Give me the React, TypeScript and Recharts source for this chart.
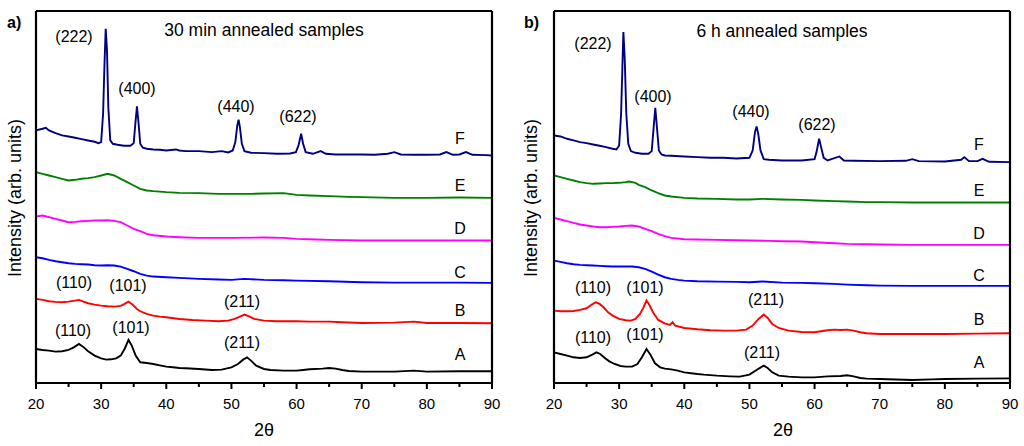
import React from 'react';
import { LineChart, Line, XAxis, YAxis } from 'recharts';

// XRD patterns, 2θ (deg) vs intensity (arb. units, traces already stacked)
// panel a) 30 min annealed samples
const a30F: [number, number][] = [
  [20, 757], [21, 762], [21.5, 765], [22, 757], [23, 749], [24, 742], [25, 739], [26, 735], [27, 731], [28, 727],
  [29, 723], [29.6, 719], [30, 722], [30.3, 807], [30.5, 947], [30.7, 1062], [30.9, 997], [31.1, 827], [31.4, 727],
  [31.8, 717], [32.5, 714], [33.5, 711], [34.5, 711], [35, 719], [35.25, 777], [35.5, 829], [35.75, 777], [36, 717],
  [36.4, 705], [37, 702], [38, 700], [39, 699], [40, 697], [41.5, 700], [42, 697], [43, 695], [45, 695], [47, 692],
  [48.5, 695], [49.5, 691], [50.2, 697], [50.6, 722], [50.9, 772], [51.1, 789], [51.3, 767], [51.6, 717], [52, 695],
  [53, 690], [55, 689], [57, 687], [59, 688], [59.9, 692], [60.3, 712], [60.7, 747], [61, 717], [61.4, 692],
  [62.5, 687], [63.7, 695], [64.5, 687], [66, 685], [68, 685], [70, 685], [72, 684], [74, 687], [75, 692], [76, 685],
  [78, 684], [80, 684], [82, 685], [83, 692], [84, 684], [85, 685], [86, 692], [87, 684], [89, 683], [90, 682],
];
const a30E: [number, number][] = [
  [20, 632], [21, 627], [22, 622], [23, 617], [24, 612], [25, 607], [26, 609], [27, 612], [28, 614], [29, 617],
  [30, 622], [31, 627], [32, 622], [33, 612], [34, 602], [35, 592], [36, 582], [37, 577], [38, 575], [40, 572],
  [42, 570], [45, 569], [48, 567], [50, 567], [53, 567], [55, 568], [58, 569], [60, 564], [62, 562], [65, 560],
  [68, 558], [70, 557], [75, 555], [80, 555], [85, 556], [90, 555],
];
const a30D: [number, number][] = [
  [20, 499], [21, 502], [22, 497], [23, 492], [24, 487], [25, 482], [26, 483], [27, 485], [28, 486], [29, 487],
  [30, 487], [31, 488], [32, 486], [33, 482], [34, 472], [35, 462], [36, 455], [37, 447], [38, 443], [40, 439],
  [42, 437], [45, 435], [50, 435], [55, 436], [58, 435], [60, 432], [63, 430], [65, 429], [70, 427], [75, 427],
  [80, 427], [85, 427], [90, 427],
];
const a30C: [number, number][] = [
  [20, 377], [21, 374], [22, 369], [23, 365], [24, 362], [25, 359], [26, 357], [27, 356], [28, 355], [29, 353],
  [30, 352], [31, 353], [32, 352], [33, 349], [34, 342], [35, 335], [36, 327], [37, 322], [38, 319], [40, 317],
  [42, 315], [45, 312], [48, 310], [50, 309], [52, 312], [55, 309], [58, 308], [60, 307], [65, 305], [70, 302],
  [75, 301], [80, 301], [85, 301], [90, 300],
];
const a30B: [number, number][] = [
  [20, 252], [21, 249], [22, 245], [23, 243], [24, 242], [25, 244], [26, 247], [26.6, 249], [27.3, 244], [28, 239],
  [29, 235], [30, 232], [31, 230], [32, 229], [33, 231], [33.6, 237], [34.2, 244], [34.8, 235], [35.5, 222], [36, 215],
  [37, 207], [38, 202], [39, 199], [40, 197], [42, 192], [44, 189], [46, 187], [48, 185], [49.5, 187], [50.5, 192],
  [51.3, 199], [52, 205], [52.8, 199], [53.5, 192], [55, 187], [57, 185], [60, 185], [62, 184], [65, 184], [67, 182],
  [70, 180], [75, 181], [78, 184], [80, 180], [85, 180], [90, 179],
];
const a30A: [number, number][] = [
  [20, 102], [21, 99], [22, 97], [23, 94], [24, 95], [25, 99], [25.8, 107], [26.6, 117], [27.2, 109], [28, 95],
  [29, 82], [30, 74], [30.8, 70], [31.5, 71], [32.3, 74], [33, 82], [33.6, 102], [34.2, 129], [34.7, 112], [35.3, 82],
  [36, 62], [37, 60], [38, 57], [39, 53], [40, 49], [41, 47], [42, 45], [43, 44], [45, 42], [47, 39], [48.5, 40],
  [50, 47], [51, 57], [51.8, 70], [52.4, 77], [53, 67], [53.8, 52], [55, 42], [56, 39], [58, 37], [60, 37], [61, 39],
  [62, 41], [64, 43], [65, 45], [66, 43], [67, 39], [68, 36], [70, 34], [72, 34], [75, 34], [78, 37], [80, 34],
  [85, 35], [90, 35],
];

// panel b) 6 h annealed samples
const b6F: [number, number][] = [
  [20, 742], [21, 739], [22, 732], [23, 727], [24, 722], [25, 719], [26, 715], [27, 711], [28, 707], [29, 702],
  [29.6, 700], [30, 712], [30.3, 807], [30.5, 947], [30.65, 1052], [30.85, 977], [31.1, 807], [31.4, 717], [31.8, 695],
  [32.5, 690], [33.5, 687], [34.5, 687], [35, 695], [35.3, 767], [35.55, 825], [35.8, 767], [36.1, 697], [36.5, 685],
  [37, 682], [38, 681], [40, 679], [42, 677], [44, 675], [46, 675], [48, 673], [50, 675], [50.5, 697], [50.85, 752],
  [51.1, 769], [51.35, 747], [51.7, 697], [52.2, 671], [53, 669], [55, 667], [58, 667], [60, 671], [60.3, 692],
  [60.7, 732], [61, 707], [61.4, 675], [62, 667], [63.8, 679], [64.5, 667], [66, 666], [70, 665], [74, 666], [75, 671],
  [76, 665], [80, 664], [82.5, 669], [83, 677], [83.7, 665], [85, 665], [85.8, 672], [86.8, 663], [90, 662],
];
const b6E: [number, number][] = [
  [20, 622], [21, 617], [22, 612], [23, 607], [24, 602], [25, 599], [26, 597], [27, 598], [28, 599], [29, 599],
  [30, 600], [31, 602], [31.5, 604], [32.5, 600], [33, 594], [34, 587], [35, 577], [36, 569], [37, 562], [38, 559],
  [40, 555], [42, 553], [45, 552], [48, 550], [50, 550], [52, 552], [55, 550], [58, 549], [60, 547], [63, 545],
  [65, 544], [68, 542], [70, 542], [75, 541], [80, 541], [85, 541], [90, 541],
];
const b6D: [number, number][] = [
  [20, 495], [21, 490], [22, 485], [23, 480], [24, 475], [25, 472], [26, 469], [27, 467], [28, 467], [29, 468],
  [30, 469], [31, 471], [32, 472], [33, 469], [34, 462], [35, 455], [36, 447], [37, 440], [38, 435], [40, 431],
  [42, 430], [45, 429], [48, 428], [50, 427], [53, 426], [55, 425], [58, 424], [60, 422], [63, 419], [65, 417],
  [68, 416], [70, 415], [75, 414], [80, 414], [85, 414], [90, 414],
];
const b6C: [number, number][] = [
  [20, 367], [21, 363], [22, 359], [23, 356], [24, 354], [25, 353], [26, 352], [27, 351], [28, 350], [29, 349],
  [30, 349], [31, 349], [32, 349], [33, 347], [34, 342], [35, 334], [36, 325], [37, 317], [38, 312], [39, 309],
  [40, 307], [42, 305], [45, 304], [48, 303], [50, 302], [52, 304], [55, 301], [58, 300], [60, 299], [63, 297],
  [65, 295], [68, 293], [70, 292], [75, 291], [80, 291], [85, 291], [90, 291],
];
const b6B: [number, number][] = [
  [20, 217], [21, 215], [22, 215], [23, 216], [24, 219], [25, 224], [25.8, 235], [26.4, 242], [27, 237], [27.6, 227],
  [28.3, 212], [29, 202], [30, 192], [31, 188], [31.8, 187], [32.5, 192], [33.2, 207], [33.7, 225], [34.2, 247],
  [34.6, 235], [35.2, 212], [36, 189], [37, 179], [37.8, 174], [38.2, 182], [38.6, 172], [40, 165], [42, 161],
  [44, 158], [46, 157], [48, 157], [49.5, 160], [50.5, 172], [51.4, 192], [52.2, 205], [52.8, 195], [53.5, 177],
  [54.5, 165], [56, 157], [58, 153], [60, 152], [61, 155], [62, 158], [63, 160], [64, 159], [65, 160], [66, 157],
  [67, 152], [68, 149], [70, 147], [75, 147], [80, 147], [85, 148], [90, 149],
];
const b6A: [number, number][] = [
  [20, 92], [21, 87], [22, 82], [23, 77], [24, 75], [25, 77], [25.8, 84], [26.5, 92], [27.1, 87], [27.8, 75],
  [28.5, 65], [29.3, 57], [30.2, 51], [31, 49], [32, 49], [32.8, 57], [33.5, 77], [34.2, 102], [34.8, 85], [35.5, 59],
  [36.3, 47], [37, 43], [38, 41], [39, 37], [40, 32], [42, 27], [43, 25], [45, 22], [47, 20], [48.5, 19], [50, 25],
  [50.8, 35], [51.5, 44], [52.2, 52], [52.8, 45], [53.5, 32], [54.5, 22], [56, 19], [58, 17], [60, 17], [62, 20],
  [64, 21], [65, 23], [66, 20], [67, 15], [68, 13], [70, 12], [75, 9], [78, 11], [80, 12], [85, 13], [90, 14],
];

const xTicks = [20, 25, 30, 35, 40, 45, 50, 55, 60, 65, 70, 75, 80, 85, 90];
const sampleNames = ['F', 'E', 'D', 'C', 'B', 'A'];
const sampleColors = ['#000080', '#008000', '#ff00ff', '#0000ff', '#ff0000', '#000000'];

const FONT = '"Liberation Sans", Arial, sans-serif';

const toPts = (arr: [number, number][]) => arr.map(([t, i]) => ({ t, i }));

const BottomTick = (props: any) => {
  const { x, y, payload } = props;
  const major = payload.value % 10 === 0;
  return (
    <g>
      <line x1={x} x2={x} y1={y} y2={y + (major ? 6 : 4)} stroke="#000" strokeWidth={2} />
      {major && (
        <text x={x} y={y + 20} textAnchor="middle" dominantBaseline="central" fontSize={15} fontFamily={FONT} fill="#000">
          {payload.value}
        </text>
      )}
    </g>
  );
};

const TopTick = (props: any) => {
  const { x, y, payload } = props;
  const major = payload.value % 10 === 0;
  return <line x1={x} x2={x} y1={y} y2={y + (major ? 5 : 3)} stroke="#000" strokeWidth={2} />;
};

type Label = { text: string; x: number; y: number };

type PanelProps = {
  left: number;
  margin: { top: number; right: number; bottom: number; left: number };
  traces: [number, number][][];
};

const axisStroke = { stroke: '#000', strokeWidth: 2.2 };

function Panel({ left, margin, traces }: PanelProps) {
  return (
    <div style={{ position: 'absolute', left, top: 0 }}>
      <LineChart width={512} height={446} margin={margin}>
        <XAxis
          dataKey="t"
          type="number"
          domain={[20, 90]}
          ticks={xTicks}
          height={30}
          tickSize={0}
          tickMargin={0}
          tickLine={false}
          tick={<BottomTick />}
          axisLine={axisStroke}
          interval={0}
        />
        <XAxis
          xAxisId="top"
          orientation="top"
          dataKey="t"
          type="number"
          domain={[20, 90]}
          ticks={xTicks}
          height={1}
          tickSize={0}
          tickMargin={0}
          tickLine={false}
          tick={<TopTick />}
          axisLine={axisStroke}
          interval={0}
        />
        <YAxis type="number" domain={[0, 1115]} width={1} tick={false} tickLine={false} axisLine={axisStroke} />
        <YAxis yAxisId="right" orientation="right" type="number" domain={[0, 1115]} width={1} tick={false} tickLine={false} axisLine={axisStroke} />
        {traces.map((tr, k) => (
          <Line
            key={sampleNames[k]}
            data={toPts(tr)}
            dataKey="i"
            type="linear"
            stroke={sampleColors[k]}
            strokeWidth={1.9}
            dot={false}
            isAnimationActive={false}
          />
        ))}
      </LineChart>
    </div>
  );
}

const textA: Label[] = [
  { text: '(222)', x: 74, y: 36 }, { text: '(400)', x: 137, y: 88 }, { text: '(440)', x: 236, y: 106 }, { text: '(622)', x: 298, y: 116 },
  { text: '(110)', x: 74, y: 282 }, { text: '(101)', x: 128, y: 285 }, { text: '(211)', x: 242, y: 301 },
  { text: '(110)', x: 73, y: 330 }, { text: '(101)', x: 131, y: 327 }, { text: '(211)', x: 242, y: 342 },
  { text: 'F', x: 460, y: 138 }, { text: 'E', x: 460, y: 185 }, { text: 'D', x: 460, y: 228 },
  { text: 'C', x: 460, y: 272 }, { text: 'B', x: 460, y: 310 }, { text: 'A', x: 460, y: 354 },
];
const textB: Label[] = [
  { text: '(222)', x: 593, y: 43 }, { text: '(400)', x: 653, y: 96 }, { text: '(440)', x: 751, y: 111 }, { text: '(622)', x: 817, y: 124 },
  { text: '(110)', x: 593, y: 287 }, { text: '(101)', x: 645, y: 287 }, { text: '(211)', x: 766, y: 299 },
  { text: '(110)', x: 593, y: 337 }, { text: '(101)', x: 645, y: 334 }, { text: '(211)', x: 762, y: 352 },
  { text: 'F', x: 979, y: 144 }, { text: 'E', x: 979, y: 190 }, { text: 'D', x: 979, y: 233 },
  { text: 'C', x: 979, y: 275 }, { text: 'B', x: 979, y: 319 }, { text: 'A', x: 979, y: 362 },
];

export default function App() {
  return (
    <div style={{ position: 'absolute', left: 0, top: 0, width: 1024, height: 446, background: '#fff', fontFamily: FONT }}>
      <Panel left={0} margin={{ top: 10, right: 19, bottom: 33, left: 35 }} traces={[a30F, a30E, a30D, a30C, a30B, a30A]} />
      <Panel left={512} margin={{ top: 10, right: 13, bottom: 33, left: 41 }} traces={[b6F, b6E, b6D, b6C, b6B, b6A]} />
      <svg width={1024} height={446} style={{ position: 'absolute', left: 0, top: 0, pointerEvents: 'none' }} fontFamily={FONT}>
        <text x={7} y={22} fontSize={16} fontWeight="bold" dominantBaseline="central">a)</text>
        <text x={524} y={22} fontSize={16} fontWeight="bold" dominantBaseline="central">b)</text>
        <text x={264} y={30} fontSize={17.5} textAnchor="middle" dominantBaseline="central">30 min annealed samples</text>
        <text x={782} y={31} fontSize={17.5} textAnchor="middle" dominantBaseline="central">6 h annealed samples</text>
        <text x={15} y={198} fontSize={18} textAnchor="middle" dominantBaseline="central" transform="rotate(-90 15 198)">Intensity (arb. units)</text>
        <text x={531} y={198} fontSize={18} textAnchor="middle" dominantBaseline="central" transform="rotate(-90 531 198)">Intensity (arb. units)</text>
        <text x={264} y={430} fontSize={18} textAnchor="middle" dominantBaseline="central">2θ</text>
        <text x={783} y={430} fontSize={18} textAnchor="middle" dominantBaseline="central">2θ</text>
        {[...textA, ...textB].map((l, k) => (
          <text key={k} x={l.x} y={l.y} fontSize={16} textAnchor="middle" dominantBaseline="central">{l.text}</text>
        ))}
      </svg>
    </div>
  );
}
